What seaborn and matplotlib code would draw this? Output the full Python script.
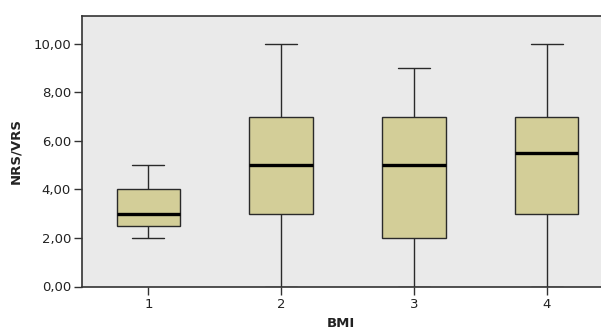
import numpy as np
import pandas as pd
import matplotlib
matplotlib.use("Agg")
import matplotlib.pyplot as plt
import seaborn as sns

# Five-number summaries: min, Q1, median, Q3, max
categories = ["1", "2", "3", "4"]
g1 = [2.0, 2.5, 3.0, 4.0, 5.0]
g2 = [0.0, 3.0, 5.0, 7.0, 10.0]
g3 = [0.0, 2.0, 5.0, 7.0, 9.0]
g4 = [0.0, 3.0, 5.5, 7.0, 10.0]
y_ticks = [0, 2, 4, 6, 8, 10]
y_tick_labels = ["0,00", "2,00", "4,00", "6,00", "8,00", "10,00"]

rows = []
for cat, vals in zip(categories, [g1, g2, g3, g4]):
    for v in vals:
        rows.append({"BMI": cat, "NRS/VRS": v})
df = pd.DataFrame(rows)

sns.set_style("white")
plt.rcParams['font.family'] = ['DejaVu Sans']

fig = plt.figure(figsize=(6.01, 3.31), dpi=100)
W, H = 601, 331
left, right, top, bottom = 82, 613, 16, 286.5
ax = fig.add_axes([left / W, 1 - bottom / H, (right - left) / W, (bottom - top) / H])
ax.set_facecolor("#EAEAEA")

edge = "#2a2a2a"
sns.boxplot(data=df, x="BMI", y="NRS/VRS", order=categories, ax=ax,
            whis=np.inf, width=0.48, color="#D3CE98", saturation=1,
            linewidth=1.0, linecolor=edge,
            boxprops=dict(facecolor="#D3CE98", edgecolor=edge),
            medianprops=dict(color="black", linewidth=2.4),
            whiskerprops=dict(color=edge, linewidth=1.0),
            capprops=dict(color=edge, linewidth=1.0),
            capwidths=0.24)

ax.set_xlim(-0.5, 3.5)
ax.set_ylim(0, 11.15)
ax.set_yticks(y_ticks)
ax.set_yticklabels(y_tick_labels)

for s in ["left", "bottom", "top"]:
    ax.spines[s].set_visible(True)
    ax.spines[s].set_color("#333333")
    ax.spines[s].set_linewidth(1.2)
ax.spines["right"].set_visible(False)

ax.tick_params(axis="both", which="both", direction="out", length=6, width=1.0,
               color="#333333", labelsize=9.5, labelcolor="#222222",
               left=True, bottom=True, pad=2)

ax.set_xlabel("BMI", fontsize=9.5, fontweight="bold", color="#222222", labelpad=4)
ax.set_ylabel("NRS/VRS", fontsize=9.5, fontweight="bold", color="#222222", labelpad=8)
ax.xaxis.set_label_coords((341 - left) / (right - left), -0.0)
ax.xaxis.label.set_verticalalignment("bottom")
ax.xaxis.label.set_position(((341 - left) / (right - left), 0))
ax.xaxis.set_label_coords((341 - left) / (right - left), -(330 - bottom) / (bottom - top))

fig.savefig("out.png", dpi=100)
